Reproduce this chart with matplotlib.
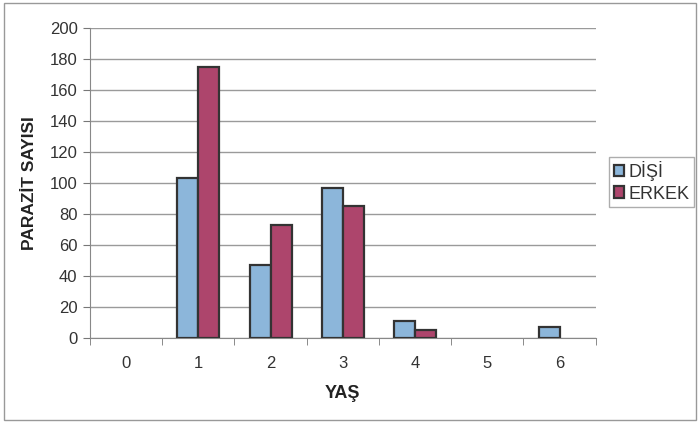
import numpy as np
import matplotlib.pyplot as plt
from matplotlib.patches import Rectangle, Patch

plt.rcParams['font.family'] = ['Liberation Sans', 'DejaVu Sans']

# --- data ---
ages = [0, 1, 2, 3, 4, 5, 6]
disi = [0, 103, 47, 97, 11, 0, 7]
erkek = [0, 175, 73, 85, 5, 0, 0]
series_names = ['DİŞİ', 'ERKEK']

c_disi = '#8cb6da'
c_erkek = '#ad456c'
edge = '#333333'

fig = plt.figure(figsize=(7, 4.23), dpi=100)
ax = fig.add_axes([0.1286, 0.2009, 0.7224, 0.7329])

x = np.arange(len(ages))
w = 0.29
b1 = ax.bar(x - w / 2, disi, width=w, color=c_disi, edgecolor=edge, linewidth=1.6, zorder=3)
b2 = ax.bar(x + w / 2, erkek, width=w, color=c_erkek, edgecolor=edge, linewidth=1.6, zorder=3)
# Excel draws nothing for empty values
for p in list(b1) + list(b2):
    if p.get_height() == 0:
        p.set_visible(False)

ax.set_xlim(-0.5, len(ages) - 0.5)
ax.set_ylim(0, 200)
ax.set_yticks(range(0, 201, 20))
ax.yaxis.grid(True, color='#9a9a9a', linewidth=1.0, zorder=0)

# category labels centred, tick marks between categories
ax.set_xticks(x)
ax.set_xticklabels([str(a) for a in ages])
ax.set_xticks(np.arange(-0.5, len(ages), 1.0), minor=True)
ax.tick_params(axis='x', which='major', length=0, pad=13, labelsize=12, labelcolor='#333333')
ax.tick_params(axis='x', which='minor', length=5, color='#777777', direction='out')
ax.tick_params(axis='y', length=5, color='#777777', labelsize=12, labelcolor='#333333', pad=4)

for s in ['top', 'right']:
    ax.spines[s].set_visible(False)
ax.spines['left'].set_color('#888888')
ax.spines['bottom'].set_color('#888888')

ax.set_ylabel('PARAZİT SAYISI', fontsize=12.5, fontweight='bold', color='#222222', labelpad=9)
ax.set_xlabel('YAŞ', fontsize=13, fontweight='bold', color='#222222', labelpad=10)

handles = [Patch(facecolor=c_disi, edgecolor=edge, linewidth=1.6),
           Patch(facecolor=c_erkek, edgecolor=edge, linewidth=1.6)]
leg = fig.legend(handles, series_names, loc='upper left', bbox_to_anchor=(0.870, 0.630), fontsize=13,
                 frameon=True, fancybox=False, handlelength=0.6, handleheight=0.6,
                 handletextpad=0.25, borderpad=0.25, labelspacing=0.25, borderaxespad=0)
leg.get_frame().set_edgecolor('#999999')
leg.get_frame().set_linewidth(1.0)
for t in leg.get_texts():
    t.set_color('#333333')

# outer chart border
fig.patches.append(Rectangle((0.006, 0.008), 0.988, 0.985, transform=fig.transFigure,
                             fill=False, edgecolor='#999999', linewidth=1.0))

fig.savefig('out.png', dpi=100)
